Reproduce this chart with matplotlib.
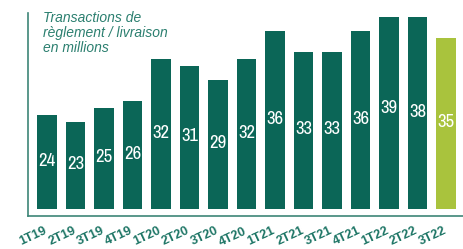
import matplotlib
matplotlib.use("Agg")
import matplotlib.pyplot as plt
from matplotlib.lines import Line2D
from matplotlib.transforms import ScaledTranslation

categories = ["1T19", "2T19", "3T19", "4T19", "1T20", "2T20", "3T20", "4T20",
              "1T21", "2T21", "3T21", "4T21", "1T22", "2T22", "3T22"]
values = [24, 23, 25, 26, 32, 31, 29, 32, 36, 33, 33, 36, 39, 38, 35]
title_lines = ["Transactions de", "règlement / livraison", "en millions"]

DARK = "#0b6657"
LIME = "#a9c33d"
TEXT = "#1d7565"
BASE = 10.57

colors = [DARK] * (len(values) - 1) + [LIME]

fig = plt.figure(figsize=(4.63, 2.49), dpi=100)
W, H = 463, 249
ax = fig.add_axes([28 / W, (H - 216) / H, (W - 28) / W, (216 - 17) / H])

x = list(range(len(values)))
heights = [v - BASE for v in values]
ax.bar(x, heights, bottom=BASE, width=0.70, color=colors)

for xi, v in zip(x, values):
    ax.text(xi, (BASE + v) / 2 + 0.2, str(v), ha="center", va="center",
            color="white", fontsize=13.5, fontweight="medium",
            family=["Archivo Narrow", "Liberation Sans", "DejaVu Sans"])

ax.set_xlim(-0.667, -0.667 + 435 / 28.5)
ax.set_ylim(BASE - 1.0, BASE - 1.0 + 199 / 7.0)

ax.set_xticks(x)
ax.set_xticklabels(categories, rotation=25, ha="right", va="top",
                   rotation_mode="anchor", color=TEXT, fontsize=9.2,
                   fontweight="bold",
                   family=["Liberation Sans", "DejaVu Sans"])
ax.tick_params(axis="x", length=0, pad=6.5)
off = ScaledTranslation(-3 / 100, 0, fig.dpi_scale_trans)
for lab in ax.get_xticklabels():
    lab.set_transform(lab.get_transform() + off)
ax.set_yticks([])

for s in ["top", "right", "left"]:
    ax.spines[s].set_visible(False)
ax.spines["bottom"].set_color("#3d8577")
ax.spines["bottom"].set_linewidth(1.2)

ax.add_line(Line2D([0, 0], [0, 1 + 4 / 199], transform=ax.transAxes,
                   color="#3d8577", linewidth=1.2, clip_on=False))

fig.text(43 / W, (H - 11) / H, "\n".join(title_lines), ha="left", va="top",
         fontsize=10, style="italic", color="#2b7f6f", linespacing=1.1,
         family=["Liberation Sans", "DejaVu Sans"])

fig.savefig("out.png", dpi=100)
